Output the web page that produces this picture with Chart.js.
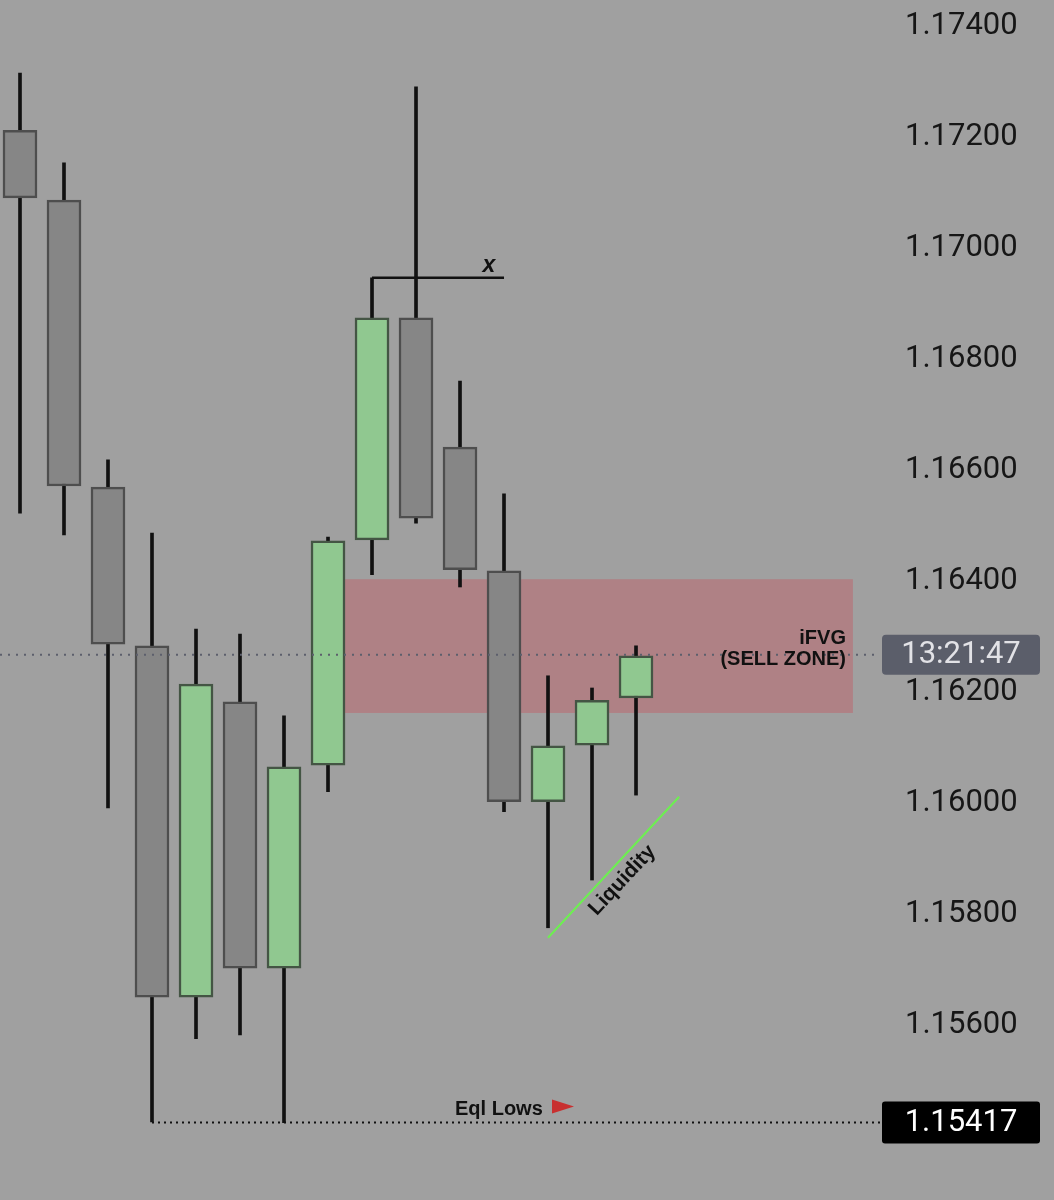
<!DOCTYPE html>
<html>
<head>
<meta charset="utf-8">
<script src="https://cdn.jsdelivr.net/npm/chart.js@4/dist/chart.umd.min.js"></script>
<style>
  html, body { margin: 0; padding: 0; background: #a0a0a0; }
  #wrap { width: 1054px; height: 1200px; position: relative; }
</style>
</head>
<body>
<div id="wrap"><canvas id="chart"></canvas></div>
<script>
// candle data (index = position on x axis)
const opens  = [1.17205, 1.17079, 1.16562, 1.16276, 1.15643, 1.16175, 1.15695, 1.16061, 1.16467, 1.16867, 1.16634, 1.16411, 1.15995, 1.16097, 1.16182];
const highs  = [1.17308, 1.17146, 1.16611, 1.16479, 1.16306, 1.16297, 1.16150, 1.16472, 1.16939, 1.17283, 1.16753, 1.16550, 1.16222, 1.16200, 1.16276];
const lows   = [1.16515, 1.16476, 1.15984, 1.15418, 1.15568, 1.15575, 1.15417, 1.16013, 1.16404, 1.16497, 1.16382, 1.15977, 1.15768, 1.15854, 1.16007];
const closes = [1.17083, 1.16564, 1.16279, 1.15643, 1.16207, 1.15695, 1.16058, 1.16465, 1.16867, 1.16506, 1.16413, 1.15995, 1.16096, 1.16178, 1.16258];

const yTicks = [1.156, 1.158, 1.160, 1.162, 1.164, 1.166, 1.168, 1.170, 1.172, 1.174];

// annotations
const zoneX = [7.37, 18.93];          // iFVG box, from / to index
const zoneY = [1.16155, 1.16396];     // bottom / top price
const currentPrice = 1.16260;
const clockLabel = '13:21:47';
const eqlLow = 1.15417;
const eqlFrom = 3;
const xLevel = [8, 11, 1.16939];      // from idx, to idx, price
const liquidity = [[12, 1.15750], [14.98, 1.16004]];

const idx = opens.map((_, i) => i);
const bullCol = '#90c890', bearCol = '#868686';
const txtFont = '"Liberation Sans", Arial, sans-serif';

const overlay = {
  id: 'overlay',
  beforeDatasetsDraw(chart) {
    const { ctx, scales: { x, y } } = chart;
    ctx.save();
    ctx.fillStyle = 'rgba(200,80,90,0.38)';
    const x0 = x.getPixelForValue(zoneX[0]), x1 = x.getPixelForValue(zoneX[1]);
    const y0 = y.getPixelForValue(zoneY[1]), y1 = y.getPixelForValue(zoneY[0]);
    ctx.fillRect(x0, y0, x1 - x0, y1 - y0);
    // x level line
    ctx.strokeStyle = '#111';
    ctx.lineWidth = 2.5;
    const ly = y.getPixelForValue(xLevel[2]);
    ctx.beginPath();
    ctx.moveTo(x.getPixelForValue(xLevel[0]), ly);
    ctx.lineTo(x.getPixelForValue(xLevel[1]), ly);
    ctx.stroke();
    ctx.restore();
  },
  afterDatasetsDraw(chart) {
    const { ctx, chartArea, scales: { x, y } } = chart;
    ctx.save();
    // current price dotted line
    const cy = y.getPixelForValue(currentPrice);
    ctx.strokeStyle = '#5c5f6c';
    ctx.lineWidth = 2;
    ctx.setLineDash([2, 6]);
    ctx.beginPath();
    ctx.moveTo(0, cy);
    ctx.lineTo(chartArea.right, cy);
    ctx.stroke();
    // eql lows dotted line
    const ey = y.getPixelForValue(eqlLow);
    ctx.strokeStyle = '#111';
    ctx.setLineDash([2, 4]);
    ctx.beginPath();
    ctx.moveTo(x.getPixelForValue(eqlFrom), ey);
    ctx.lineTo(chartArea.right, ey);
    ctx.stroke();
    ctx.setLineDash([]);

    // liquidity line
    ctx.strokeStyle = '#6cf050';
    ctx.lineWidth = 2;
    const p0 = [x.getPixelForValue(liquidity[0][0]), y.getPixelForValue(liquidity[0][1])];
    const p1 = [x.getPixelForValue(liquidity[1][0]), y.getPixelForValue(liquidity[1][1])];
    ctx.beginPath();
    ctx.moveTo(p0[0], p0[1]);
    ctx.lineTo(p1[0], p1[1]);
    ctx.stroke();

    // texts
    ctx.fillStyle = '#111';
    ctx.font = 'bold 20px ' + txtFont;
    ctx.textAlign = 'right';
    ctx.textBaseline = 'alphabetic';
    const zr = x.getPixelForValue(zoneX[1]) - 7;
    ctx.fillText('iFVG', zr, cy - 11);
    ctx.fillText('(SELL ZONE)', zr, cy + 10);

    ctx.font = 'italic bold 23px ' + txtFont;
    ctx.textAlign = 'center';
    ctx.fillText('x', x.getPixelForValue(xLevel[1]) - 15, y.getPixelForValue(xLevel[2]) - 6);

    // liquidity text
    const ang = Math.atan2(p1[1] - p0[1], p1[0] - p0[0]);
    ctx.save();
    ctx.translate((p0[0] + p1[0]) / 2 + 13, (p0[1] + p1[1]) / 2 + 17);
    ctx.rotate(ang);
    ctx.font = 'bold 21px ' + txtFont;
    ctx.textAlign = 'center';
    ctx.fillText('Liquidity', 0, 0);
    ctx.restore();

    // eql lows label + flag
    ctx.font = 'bold 20px ' + txtFont;
    ctx.textAlign = 'left';
    ctx.fillText('Eql Lows', 455, ey - 8);
    ctx.fillStyle = '#c83030';
    ctx.beginPath();
    ctx.moveTo(552, ey - 23);
    ctx.lineTo(574, ey - 16);
    ctx.lineTo(552, ey - 9);
    ctx.closePath();
    ctx.fill();

    // right side price boxes
    const bx = chartArea.right + 2, bw = 158, bh = 40;
    ctx.fillStyle = '#5b5e6a';
    ctx.beginPath();
    ctx.roundRect(bx, cy - bh / 2, bw, bh, 4);
    ctx.fill();
    ctx.fillStyle = '#e2e2e6';
    ctx.font = '31px Roboto';
    ctx.textAlign = 'center';
    ctx.textBaseline = 'middle';
    ctx.fillText(clockLabel, bx + bw / 2, cy + 1);

    ctx.fillStyle = '#000';
    ctx.beginPath();
    ctx.roundRect(bx, ey - 21, bw, 42, 3);
    ctx.fill();
    ctx.fillStyle = '#fff';
    ctx.fillText(eqlLow.toFixed(5), bx + bw / 2, ey + 1);
    ctx.restore();
  }
};

new Chart(document.getElementById('chart'), {
  type: 'bar',
  data: {
    datasets: [
      {
        label: 'body',
        data: idx.map(i => ({ x: i, y: [opens[i], closes[i]] })),
        backgroundColor: idx.map(i => closes[i] >= opens[i] ? bullCol : bearCol),
        borderColor: idx.map(i => closes[i] >= opens[i] ? '#445544' : '#4e4e4e'),
        borderWidth: 2.5,
        borderSkipped: false,
        barThickness: 34,
        grouped: false
      },
      {
        label: 'wick',
        data: idx.map(i => ({ x: i, y: [lows[i], highs[i]] })),
        backgroundColor: '#111',
        borderWidth: 0,
        barThickness: 3,
        grouped: false
      }
    ]
  },
  options: {
    responsive: true,
    maintainAspectRatio: false,
    animation: false,
    layout: { padding: 0 },
    plugins: { legend: { display: false }, tooltip: { enabled: false } },
    scales: {
      x: {
        type: 'linear',
        min: -0.4545,
        max: 19.545,
        offset: false,
        display: false
      },
      y: {
        position: 'right',
        min: 1.152775,
        max: 1.174396,
        grid: { display: false, drawTicks: false },
        border: { display: false },
        afterFit(scale) {
          scale.width = 174;
          scale.paddingTop = 0;
          scale.paddingBottom = 0;
        },
        afterBuildTicks(scale) { scale.ticks = yTicks.map(v => ({ value: v })); },
        ticks: {
          color: '#161616',
          font: { family: 'Roboto', size: 31 },
          padding: 25,
          labelOffset: 4,
          callback: v => Number(v).toFixed(5)
        }
      }
    }
  },
  plugins: [overlay]
});
</script>
</body>
</html>
